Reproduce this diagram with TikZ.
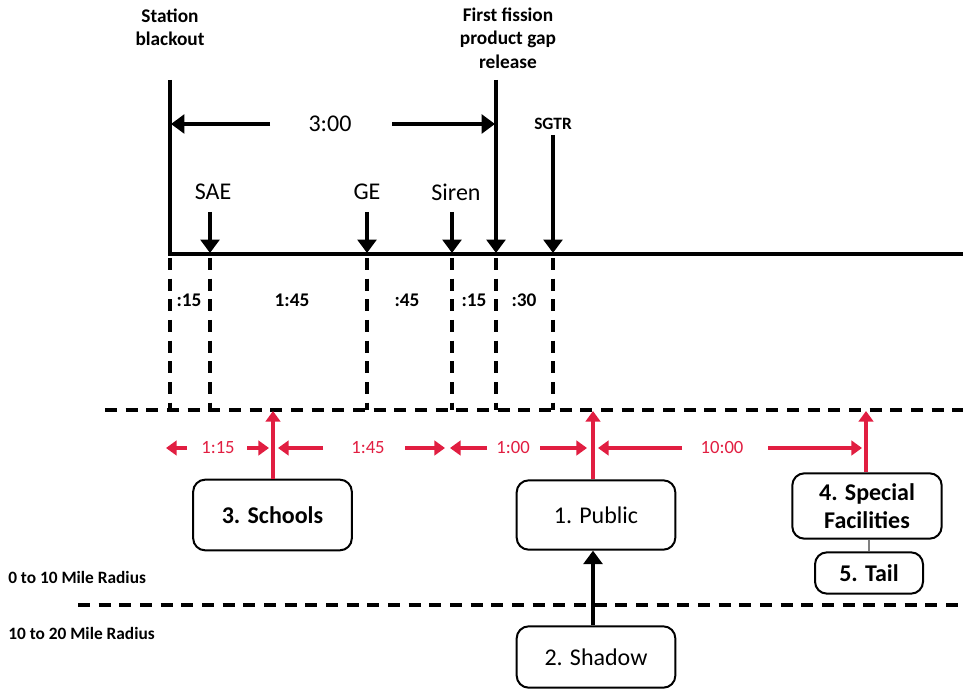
\documentclass[tikz,border=0pt]{standalone}
\usepackage{fontspec}
\setmainfont{Carlito}
\usetikzlibrary{arrows.meta}
\definecolor{evred}{RGB}{225,30,65}
\begin{document}
\begin{tikzpicture}[x=0.75pt,y=-0.75pt,
  lbl/.style={font=\bfseries\fontsize{14.5}{17.5}\selectfont, align=center, inner sep=0pt},
  evt/.style={font=\fontsize{18}{20}\selectfont, inner sep=0pt},
  dur/.style={font=\bfseries\fontsize{14.5}{16}\selectfont, inner sep=0pt},
  rlbl/.style={font=\fontsize{14}{16}\selectfont, text=evred, inner sep=0pt},
  zone/.style={font=\bfseries\fontsize{13}{15}\selectfont, anchor=west, inner sep=0pt},
  solidline/.style={line width=2.8pt},
  blkarrow/.style={line width=2.8pt, -{Triangle[length=10pt,width=14pt]}},
  dsh/.style={line width=2.3pt, dash pattern=on 9pt off 6.5pt},
  redarr/.style={draw=evred, line width=2.6pt, -{Triangle[length=8pt,width=11pt]}},
  box/.style={draw, rounded corners=9pt, line width=1.5pt, align=center, inner sep=2pt},
  bxb/.style={box, font=\bfseries\fontsize{18}{20.5}\selectfont},
  bxr/.style={box, font=\fontsize{18}{20.5}\selectfont}]
\useasboundingbox (0,0) rectangle (963,698);

% top labels
\node[lbl] (sbo) at (170,27) {Station\\blackout};
\node[lbl] (ffp) at (508,38) {First fission\\product gap\\release};
\node[lbl, font=\bfseries\fontsize{13}{15}\selectfont] (sgtr) at (553,124) {SGTR};

% main vertical and timeline
\coordinate (sbtop) at (170,80);
\coordinate (sbbot) at (170,254);
\coordinate (tlend) at (963,254);
\draw[solidline] (sbtop) -- (sbbot) -- (tlend);

% 3:00
\node[evt] (t300) at (330,124) {3:00};
\coordinate (t300l) at (171,124);
\coordinate (t300r) at (495,124);
\draw[blkarrow] (270,124) -- (t300l);
\draw[blkarrow] (392,124) -- (t300r);

% fission and SGTR arrows
\coordinate (fftop) at (496,80);
\coordinate (ffbot) at (496,253);
\draw[blkarrow] (fftop) -- (ffbot);
\coordinate (sgtop) at (553,135);
\coordinate (sgbot) at (553,253);
\draw[blkarrow] (sgtop) -- (sgbot);

% event labels and arrows
\node[evt] (sae) at (213,192) {SAE};
\node[evt] (ge) at (367,192) {GE};
\node[evt] (siren) at (456,192) {Siren};
\coordinate (saeb) at (210,253);
\coordinate (geb) at (367,253);
\coordinate (sirb) at (452,253);
\draw[blkarrow] (210,212) -- (saeb);
\draw[blkarrow] (367,212) -- (geb);
\draw[blkarrow] (452,212) -- (sirb);

% dashed verticals
\foreach \xx in {170,210,367,452,496,553}
  \draw[dsh] (\xx,258) -- (\xx,410);

% durations
\node[dur] (d1) at (189,300) {:15};
\node[dur] (d2) at (292,300) {1:45};
\node[dur] (d3) at (407,300) {:45};
\node[dur] (d4) at (474,300) {:15};
\node[dur] (d5) at (524,300) {:30};

% horizontal dashed lines
\coordinate (h1l) at (105,410);
\coordinate (h1r) at (963,410);
\draw[dsh] (h1l) -- (h1r);
\coordinate (h2l) at (78,605);
\coordinate (h2r) at (963,605);
\draw[dsh] (h2l) -- (h2r);

% boxes
\node[bxb, minimum width=119pt, minimum height=53pt] (schools) at (272.5,515) {3. Schools};
\node[bxr, minimum width=119pt, minimum height=52pt] (public) at (596,515) {1. Public};
\node[bxr, minimum width=119pt, minimum height=46pt] (shadow) at (596,657) {2. Shadow};
\node[bxb, minimum width=112pt, minimum height=49pt] (special) at (867,506) {4. Special\\Facilities};
\node[bxb, minimum width=81pt, minimum height=31pt] (tail) at (869,573) {5. Tail};

% connectors
\draw[line width=1.8pt, draw=gray] (special.south -| tail.north) -- (tail.north);
\draw[blkarrow] (shadow.north -| 593,0) -- (public.south -| 593,0);

% red vertical arrows
\coordinate (rv1) at (273,411);
\coordinate (rv2) at (593,411);
\coordinate (rv3) at (866,411);
\draw[redarr] (schools.north -| rv1) -- (rv1);
\draw[redarr] (public.north -| rv2) -- (rv2);
\draw[redarr] (special.north -| rv3) -- (rv3);

% red horizontal labels and arrows
\node[rlbl] (r1) at (218,448) {1:15};
\node[rlbl] (r2) at (368,448) {1:45};
\node[rlbl] (r3) at (513,448) {1:00};
\node[rlbl] (r4) at (722,448) {10:00};
\draw[redarr] (187,448) -- (166,448);
\draw[redarr] (247,448) -- (269,448);
\draw[redarr] (323,448) -- (278,448);
\draw[redarr] (405,448) -- (445,448);
\draw[redarr] (487,448) -- (450,448);
\draw[redarr] (540,448) -- (587,448);
\draw[redarr] (682,448) -- (598,448);
\draw[redarr] (768,448) -- (862,448);

% zone labels
\node[zone] (z1) at (8,577) {0 to 10 Mile Radius};
\node[zone] (z2) at (8,633) {10 to 20 Mile Radius};
\end{tikzpicture}
\end{document}
